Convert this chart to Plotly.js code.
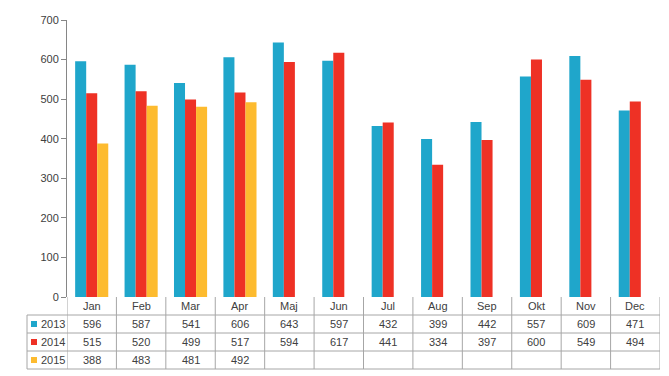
<!DOCTYPE html>
<html><head><meta charset="utf-8">
<script src="https://cdn.plot.ly/plotly-3.0.1.min.js"></script>
<style>body{margin:0;background:#fff}#c{width:669px;height:376px}</style>
</head><body><div id="c"></div>
<script>
const months = ["Jan","Feb","Mar","Apr","Maj","Jun","Jul","Aug","Sep","Okt","Nov","Dec"];
const seriesNames = ["2013","2014","2015"];
const v2013 = [596,587,541,606,643,597,432,399,442,557,609,471];
const v2014 = [515,520,499,517,594,617,441,334,397,600,549,494];
const v2015 = [388,483,481,492,null,null,null,null,null,null,null,null];
const colors = ["#1FA6CB","#EE3125","#FDBB2F"];
const allVals = [v2013, v2014, v2015];

const L = 67, R = 660, T = 20, B = 297, W = 669, H = 376;
const pw = R - L, ph = B - T;
const py = p => (B - p) / ph;     // pixel y -> paper y
const pxp = p => (p - L) / pw;    // pixel x -> paper x

const traces = allVals.map((vals, i) => ({
  type: 'bar', x: months.map((m, j) => j), y: vals, name: seriesNames[i],
  marker: {color: colors[i]}, hoverinfo: 'none'
}));

const gridCol = '#A6A6A6';
const shapes = [];
const annotations = [];
const rowY = [297, 315, 333, 351, 369];
// horizontal table lines
shapes.push({type:'line', xref:'paper', yref:'paper', x0:0, x1:1, y0:py(315), y1:py(315), line:{color:gridCol, width:1}});
for (let k = 2; k < rowY.length; k++) {
  shapes.push({type:'line', xref:'paper', yref:'paper', x0:pxp(27), x1:1, y0:py(rowY[k]), y1:py(rowY[k]), line:{color:gridCol, width:1}});
}
shapes.push({type:'line', xref:'paper', yref:'paper', x0:pxp(27), x1:0, y0:py(315), y1:py(315), line:{color:gridCol, width:1}});
// vertical lines
for (let j = 0; j <= months.length; j++) {
  shapes.push({type:'line', xref:'x', yref:'paper', x0:j-0.5, x1:j-0.5, y0:py(297), y1:py(369), line:{color:gridCol, width:1}});
}
shapes.push({type:'line', xref:'paper', yref:'paper', x0:pxp(27), x1:pxp(27), y0:py(315), y1:py(369), line:{color:gridCol, width:1}});

const font = {family:'Liberation Sans, Arial, sans-serif', size:11, color:'#404040'};
months.forEach((m, j) => {
  annotations.push({xref:'x', yref:'paper', x:j, y:py(306), text:m, showarrow:false, font:font, xanchor:'center', yanchor:'middle'});
  allVals.forEach((vals, i) => {
    if (vals[j] !== null) annotations.push({xref:'x', yref:'paper', x:j, y:py(324 + 18*i), text:String(vals[j]), showarrow:false, font:font, xanchor:'center', yanchor:'middle'});
  });
});
seriesNames.forEach((s, i) => {
  const cy = 324 + 18*i;
  shapes.push({type:'rect', xref:'paper', yref:'paper', x0:pxp(31), x1:pxp(37), y0:py(cy+3), y1:py(cy-3), fillcolor:colors[i], line:{width:0}});
  annotations.push({xref:'paper', yref:'paper', x:pxp(39), y:py(cy), text:s, showarrow:false, font:font, xanchor:'left', yanchor:'middle'});
});

const layout = {
  width: W, height: H,
  margin: {l: L, r: W - R, t: T, b: H - B, pad: 0},
  paper_bgcolor: '#fff', plot_bgcolor: '#fff',
  showlegend: false,
  barmode: 'group', bargap: 0.33, bargroupgap: 0,
  xaxis: {range: [-0.5, 11.5], showticklabels: false, showgrid: false, zeroline: false, ticks: '', showline: false, fixedrange: true},
  yaxis: {range: [0, 700], dtick: 100, showgrid: false, zeroline: false, showline: true, linecolor: '#868686', linewidth: 1,
          ticks: 'outside', ticklen: 5, tickcolor: '#868686', tickfont: font, fixedrange: true},
  shapes: shapes, annotations: annotations,
  font: font
};
Plotly.newPlot('c', traces, layout, {staticPlot: true, displayModeBar: false});
</script></body></html>
